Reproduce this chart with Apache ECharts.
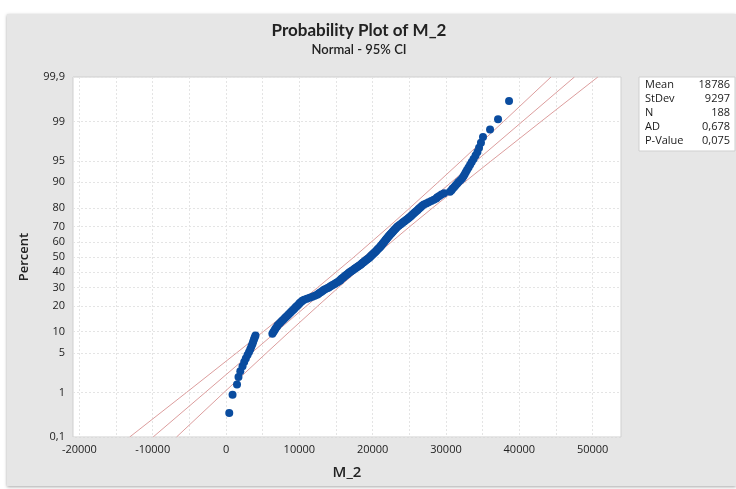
<!DOCTYPE html>
<html lang="en" style="height: 100%">
<head>
  <meta charset="utf-8">
</head>
<body style="height: 100%; margin: 0; background: #fff">
  <div id="panel" style="position: absolute; left: 7px; top: 14px; width: 729px; height: 472px; background: #e6e6e6; box-shadow: 0 1px 3px rgba(0,0,0,0.35)"></div>
  <div id="container" style="position: absolute; left: 0; top: 0; width: 736px; height: 489px"></div>

  <script type="text/javascript" src="https://fastly.jsdelivr.net/npm/echarts@6.0.0/dist/echarts.min.js"></script>

  <script type="text/javascript">
    var m2Values = [
      440, 890, 1500, 1700, 1950, 2250, 2480, 2700, 2930, 3140,
      3310, 3460, 3600, 3700, 3810, 3910, 4020, 6320, 6470, 6620,
      6750, 6940, 7050, 7260, 7460, 7650, 7840, 8030, 8210, 8390,
      8550, 8730, 8890, 9060, 9220, 9370, 9520, 9680, 9830, 9980,
      10090, 10270, 10410, 10650, 11030, 11400, 11780, 12110, 12430, 12610,
      12780, 12970, 13150, 13330, 13500, 13800, 14010, 14210, 14420, 14620,
      14800, 15000, 15180, 15390, 15560, 15620, 15750, 15900, 16040, 16180,
      16310, 16450, 16590, 16720, 16860, 17010, 17170, 17320, 17490, 17640,
      17790, 17950, 18090, 18240, 18400, 18520, 18660, 18800, 18910, 19040,
      19180, 19310, 19450, 19590, 19700, 19810, 19910, 20020, 20120, 20230,
      20340, 20450, 20540, 20650, 20760, 20870, 20980, 21060, 21140, 21240,
      21320, 21420, 21500, 21580, 21680, 21760, 21850, 21930, 22030, 22120,
      22220, 22310, 22420, 22530, 22630, 22740, 22830, 22940, 23040, 23150,
      23270, 23390, 23560, 23710, 23870, 24020, 24190, 24350, 24510, 24700,
      24870, 25030, 25200, 25330, 25480, 25630, 25780, 25940, 26110, 26260,
      26420, 26580, 26750, 26980, 27310, 27630, 27990, 28340, 28670, 28820,
      29090, 29390, 29740, 30550, 30760, 30880, 31100, 31300, 31510, 31710,
      31960, 32190, 32370, 32530, 32700, 32870, 33080, 33290, 33510, 33760,
      34030, 34290, 34510, 34770, 35050, 36010, 37100, 38600
    ];

    // fitted line and 95% CI band, read at these percents
    var ciPercents = [0.1, 1, 5, 10, 20, 30, 50, 70, 80, 90, 95, 99, 99.9];
    var ciLower = [-13137, -5400, 1455, 5078, 9415, 12493, 17457, 22244, 25064, 28907, 32040, 37855, 44322];
    var ciUpper = [-6750, -283, 5532, 8665, 12508, 15328, 20115, 25079, 28157, 32494, 36117, 42972, 50709];
    var fitPercents = [0.1, 99.9];
    var fitValues = [-9944, 47516];

    var percentTicks = [0.1, 1, 5, 10, 20, 30, 40, 50, 60, 70, 80, 90, 95, 99, 99.9];
    var percentLabels = ['0,1', '1', '5', '10', '20', '30', '40', '50', '60', '70', '80', '90', '95', '99', '99,9'];
    var xLabelValues = [-20000, -10000, 0, 10000, 20000, 30000, 40000, 50000];
    var xGridValues = [-20000, -15000, -10000, -5000, 0, 5000, 10000, 15000, 20000, 25000, 30000, 35000, 40000, 45000, 50000];

    var statNames = ['Mean', 'StDev', 'N', 'AD', 'P-Value'];
    var statValues = ['18786', '9297', '188', '0,678', '0,075'];

    // inverse normal cdf (Acklam) for the probability scale
    function probit(p) {
      var a = [-39.69683028665376, 220.9460984245205, -275.9285104469687, 138.3577518672690, -30.66479806614716, 2.506628277459239];
      var b = [-54.47609879822406, 161.5858368580409, -155.6989798598866, 66.80131188771972, -13.28068155288572];
      var c = [-0.007784894002430293, -0.3223964580411365, -2.400758277161838, -2.549732539343734, 4.374664141464968, 2.938163982698783];
      var d = [0.007784695709041462, 0.3224671290700398, 2.445134137142996, 3.754408661907416];
      var q, r;
      if (p < 0.02425) {
        q = Math.sqrt(-2 * Math.log(p));
        return (((((c[0] * q + c[1]) * q + c[2]) * q + c[3]) * q + c[4]) * q + c[5]) /
          ((((d[0] * q + d[1]) * q + d[2]) * q + d[3]) * q + 1);
      }
      if (p > 1 - 0.02425) {
        q = Math.sqrt(-2 * Math.log(1 - p));
        return -(((((c[0] * q + c[1]) * q + c[2]) * q + c[3]) * q + c[4]) * q + c[5]) /
          ((((d[0] * q + d[1]) * q + d[2]) * q + d[3]) * q + 1);
      }
      q = p - 0.5;
      r = q * q;
      return (((((a[0] * r + a[1]) * r + a[2]) * r + a[3]) * r + a[4]) * r + a[5]) * q /
        (((((b[0] * r + b[1]) * r + b[2]) * r + b[3]) * r + b[4]) * r + 1);
    }
    function pz(pct) { return probit(pct / 100); }

    var n = m2Values.length;
    // median-rank plotting positions, as in the probability plot
    var points = m2Values.map(function (v, i) {
      return [v, probit((i + 1 - 0.3) / (n + 0.4))];
    });
    var zTicks = percentTicks.map(pz);
    var zMin = pz(0.1), zMax = pz(99.9);

    var dom = document.getElementById('container');
    var myChart = echarts.init(dom, null, { renderer: 'canvas' });
    var font = '"Open Sans", "Noto Sans", sans-serif';
    var titleFont = 'Lato, "Open Sans", sans-serif';
    var lineStyle = { color: '#dc9d9d', width: 1 };

    var statText = [];
    statNames.forEach(function (s, i) {
      statText.push({
        type: 'text', x: 645, y: 85 + i * 13.9,
        style: { text: s, font: '11px ' + font, fill: '#1a1a1a', textVerticalAlign: 'middle' }
      });
      statText.push({
        type: 'text', x: 730, y: 85 + i * 13.9,
        style: { text: statValues[i], font: '11px ' + font, fill: '#1a1a1a', textAlign: 'right', textVerticalAlign: 'middle' }
      });
    });

    var option = {
      animation: false,
      textStyle: { fontFamily: font },
      title: {
        text: 'Probability Plot of M_2',
        subtext: 'Normal - 95% CI',
        left: 354,
        textAlign: 'center',
        top: 17,
        itemGap: 4,
        textStyle: { fontSize: 17, fontWeight: 'bold', color: '#222', fontFamily: titleFont },
        subtextStyle: { fontSize: 13, fontWeight: 600, color: '#222', fontFamily: titleFont }
      },
      graphic: [
        {
          type: 'rect', shape: { x: 639, y: 77, width: 96, height: 74 },
          style: { fill: '#fff', stroke: '#cfcfcf', lineWidth: 1 }
        }
      ].concat(statText),
      grid: {
        show: true,
        left: 73, right: 115, top: 77, bottom: 52,
        backgroundColor: '#fff',
        borderColor: '#cfcfcf',
        borderWidth: 1
      },
      xAxis: {
        type: 'value',
        min: -20870,
        max: 53870,
        name: 'M_2',
        nameLocation: 'middle',
        nameGap: 28,
        nameTextStyle: { fontSize: 15, fontWeight: 600, color: '#222' },
        axisLine: { show: false },
        axisTick: { show: false, customValues: xGridValues },
        axisLabel: {
          customValues: xLabelValues,
          fontSize: 11, color: '#222', margin: 7,
          formatter: function (v) { return String(v); }
        },
        splitLine: { show: true, lineStyle: { color: '#e4e4e4', type: [2, 2] } }
      },
      yAxis: {
        type: 'value',
        min: zMin,
        max: zMax,
        name: 'Percent',
        nameLocation: 'middle',
        nameGap: 42,
        nameTextStyle: { fontSize: 13, fontWeight: 600, color: '#222' },
        axisLine: { show: false },
        axisTick: { show: false, customValues: zTicks },
        axisLabel: {
          customValues: zTicks,
          fontSize: 11, color: '#222', margin: 8,
          formatter: function (v) {
            for (var k = 0; k < zTicks.length; k++) {
              if (Math.abs(zTicks[k] - v) < 1e-6) return percentLabels[k];
            }
            return '';
          }
        },
        splitLine: { show: true, lineStyle: { color: '#e4e4e4', type: [2, 2] } }
      },
      series: [
        {
          type: 'line', symbol: 'none', lineStyle: lineStyle, z: 1,
          data: ciPercents.map(function (p, i) { return [ciLower[i], pz(p)]; })
        },
        {
          type: 'line', symbol: 'none', lineStyle: lineStyle, z: 1,
          data: fitPercents.map(function (p, i) { return [fitValues[i], pz(p)]; })
        },
        {
          type: 'line', symbol: 'none', lineStyle: lineStyle, z: 1,
          data: ciPercents.map(function (p, i) { return [ciUpper[i], pz(p)]; })
        },
        {
          type: 'scatter', symbol: 'circle', symbolSize: 8, z: 3,
          itemStyle: { color: '#0a4c9f', opacity: 1 },
          data: points
        }
      ]
    };

    myChart.setOption(option);
    window.addEventListener('resize', myChart.resize);
  </script>
</body>
</html>
